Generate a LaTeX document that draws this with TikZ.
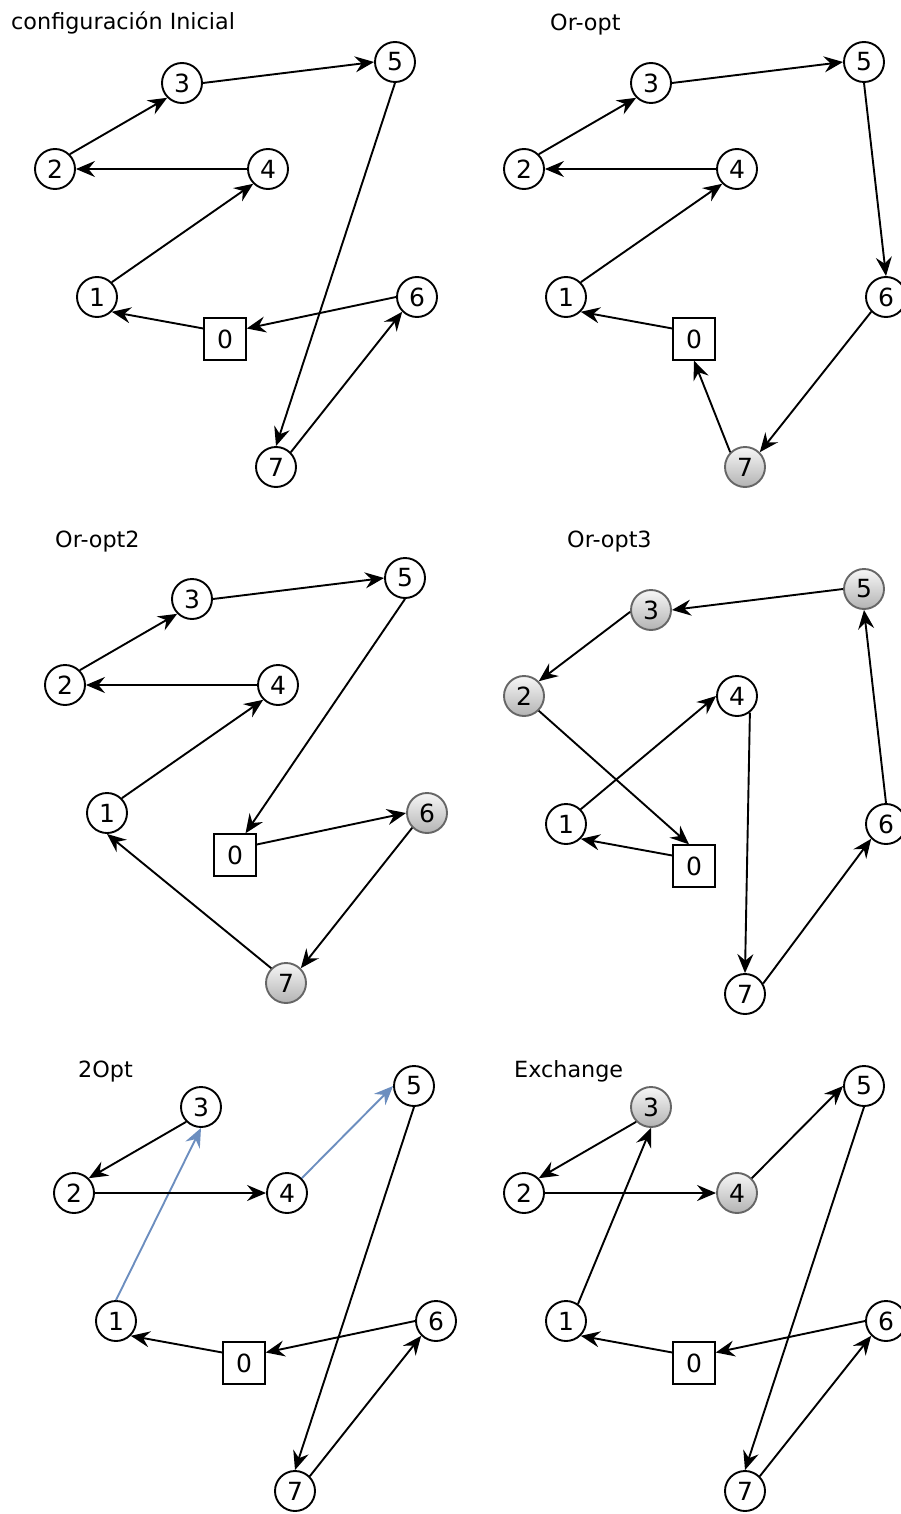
\documentclass[tikz,border=0pt]{standalone}
\usepackage{fontspec}
\setmainfont{DejaVu Sans}
\usetikzlibrary{arrows.meta}
\definecolor{hlgray}{HTML}{666666}
\definecolor{hltop}{HTML}{F7F7F7}
\definecolor{hlbot}{HTML}{B3B3B3}
\definecolor{blueedge}{HTML}{6C8EBF}
\tikzset{
  v/.style={circle, draw, line width=1.9pt, minimum size=40pt, inner sep=0pt, fill=white, font=\fontsize{25}{25}\selectfont},
  hl/.style={v, draw=hlgray, top color=hltop, bottom color=hlbot},
  dep/.style={rectangle, draw, line width=1.9pt, minimum size=41.5pt, inner sep=0pt, fill=white, font=\fontsize{25}{25}\selectfont},
  edge/.style={line width=1.9pt, -{Stealth[length=19pt,width=16pt,inset=6.5pt]}},
  bedge/.style={edge, draw=blueedge, fill=blueedge},
  ttl/.style={anchor=base west, inner sep=0pt, font=\fontsize{22.3}{22.3}\selectfont}
}
\begin{document}
\begin{tikzpicture}[x=1pt,y=-1pt]
\useasboundingbox (0,0) rectangle (901,1514);

% ---------- Panel A: configuracion Inicial ----------
\node[ttl] (ta) at (11,29.5) {configuración Inicial};
\node[v] (a3) at (182,83) {3};
\node[v] (a5) at (395,62) {5};
\node[v] (a2) at (55,169) {2};
\node[v] (a4) at (268,169) {4};
\node[v] (a1) at (97,297) {1};
\node[v] (a6) at (417,297) {6};
\node[dep] (a0) at (225,339) {0};
\node[v] (a7) at (276,467) {7};
\draw[edge] ([yshift=10.5pt]a0.west) -- (a1.south east);
\draw[edge] (a1.north east) -- (a4.south west);
\draw[edge] (a4.west) -- (a2.east);
\draw[edge] (a2.north east) -- (a3.south west);
\draw[edge] (a3.east) -- (a5.west);
\draw[edge] (a5.south) -- (a7.north);
\draw[edge] (a7.north east) -- (a6.south west);
\draw[edge] (a6.west) -- ([yshift=10.5pt]a0.east);

% ---------- Panel B: Or-opt ----------
\node[ttl] (tb) at (550,31) {Or-opt};
\begin{scope}[shift={(469,0)}]
\node[v] (b3) at (182,83) {3};
\node[v] (b5) at (395,62) {5};
\node[v] (b2) at (55,169) {2};
\node[v] (b4) at (268,169) {4};
\node[v] (b1) at (97,297) {1};
\node[v] (b6) at (417,297) {6};
\node[dep] (b0) at (225,339) {0};
\node[hl] (b7) at (276,467) {7};
\end{scope}
\draw[edge] ([yshift=10.5pt]b0.west) -- (b1.south east);
\draw[edge] (b1.north east) -- (b4.south west);
\draw[edge] (b4.west) -- (b2.east);
\draw[edge] (b2.north east) -- (b3.south west);
\draw[edge] (b3.east) -- (b5.west);
\draw[edge] (b5.south) -- (b6.north);
\draw[edge] (b6.south west) -- (b7.north east);
\draw[edge] (b7.north west) -- (b0.south);

% ---------- Panel C: Or-opt2 ----------
\node[ttl] (tc) at (55,547.5) {Or-opt2};
\begin{scope}[shift={(10,516)}]
\node[v] (c3) at (182,83) {3};
\node[v] (c5) at (395,62) {5};
\node[v] (c2) at (55,169) {2};
\node[v] (c4) at (268,169) {4};
\node[v] (c1) at (97,297) {1};
\node[hl] (c6) at (417,297) {6};
\node[dep] (c0) at (225,339) {0};
\node[hl] (c7) at (276,467) {7};
\end{scope}
\draw[edge] ([yshift=10.5pt]c0.east) -- (c6.west);
\draw[edge] (c6.south west) -- (c7.north east);
\draw[edge] (c7.north west) -- (c1.south);
\draw[edge] (c1.north east) -- (c4.south west);
\draw[edge] (c4.west) -- (c2.east);
\draw[edge] (c2.north east) -- (c3.south west);
\draw[edge] (c3.east) -- (c5.west);
\draw[edge] (c5.south) -- ([xshift=10.5pt]c0.north);

% ---------- Panel D: Or-opt3 ----------
\node[ttl] (td) at (567,547.5) {Or-opt3};
\begin{scope}[shift={(469,527)}]
\node[hl] (d3) at (182,83) {3};
\node[hl] (d5) at (395,62) {5};
\node[hl] (d2) at (55,169) {2};
\node[v] (d4) at (268,169) {4};
\node[v] (d1) at (97,297) {1};
\node[v] (d6) at (417,297) {6};
\node[dep] (d0) at (225,339) {0};
\node[v] (d7) at (276,467) {7};
\end{scope}
\draw[edge] (d5.west) -- (d3.east);
\draw[edge] (d3.185) -- (d2.north east);
\draw[edge] (d2.south east) -- ([xshift=-5pt]d0.north);
\draw[edge] ([yshift=10.5pt]d0.west) -- (d1.south east);
\draw[edge] (d1.north east) -- (d4.west);
\draw[edge] (d4.-52) -- (d7.north);
\draw[edge] (d7.30) -- (d6.south west);
\draw[edge] (d6.north) -- (d5.south);

% ---------- Panel E: 2Opt ----------
\node[ttl] (te) at (78,1077) {2Opt};
\begin{scope}[shift={(19,1024)}]
\node[v] (e3) at (182,83) {3};
\node[v] (e5) at (395,62) {5};
\node[v] (e2) at (55,169) {2};
\node[v] (e4) at (268,169) {4};
\node[v] (e1) at (97,297) {1};
\node[v] (e6) at (417,297) {6};
\node[dep] (e0) at (225,339) {0};
\node[v] (e7) at (276,467) {7};
\end{scope}
\draw[edge] ([yshift=10.5pt]e0.west) -- (e1.south east);
\draw[bedge] (e1.north) -- (e3.south);
\draw[edge] (e3.south west) -- (e2.north east);
\draw[edge] (e2.east) -- (e4.west);
\draw[bedge] (e4.north east) -- (e5.west);
\draw[edge] (e5.south) -- (e7.north);
\draw[edge] (e7.north east) -- (e6.south west);
\draw[edge] (e6.west) -- ([yshift=10.5pt]e0.east);

% ---------- Panel F: Exchange ----------
\node[ttl] (tf) at (514,1077) {Exchange};
\begin{scope}[shift={(469,1024)}]
\node[hl] (f3) at (182,83) {3};
\node[v] (f5) at (395,62) {5};
\node[v] (f2) at (55,169) {2};
\node[hl] (f4) at (268,169) {4};
\node[v] (f1) at (97,297) {1};
\node[v] (f6) at (417,297) {6};
\node[dep] (f0) at (225,339) {0};
\node[v] (f7) at (276,467) {7};
\end{scope}
\draw[edge] ([yshift=10.5pt]f0.west) -- (f1.south east);
\draw[edge] (f1.55) -- (f3.south);
\draw[edge] (f3.south west) -- (f2.north east);
\draw[edge] (f2.east) -- (f4.west);
\draw[edge] (f4.north east) -- (f5.west);
\draw[edge] (f5.south) -- (f7.north);
\draw[edge] (f7.north east) -- (f6.south west);
\draw[edge] (f6.west) -- ([yshift=10.5pt]f0.east);
\end{tikzpicture}
\end{document}
